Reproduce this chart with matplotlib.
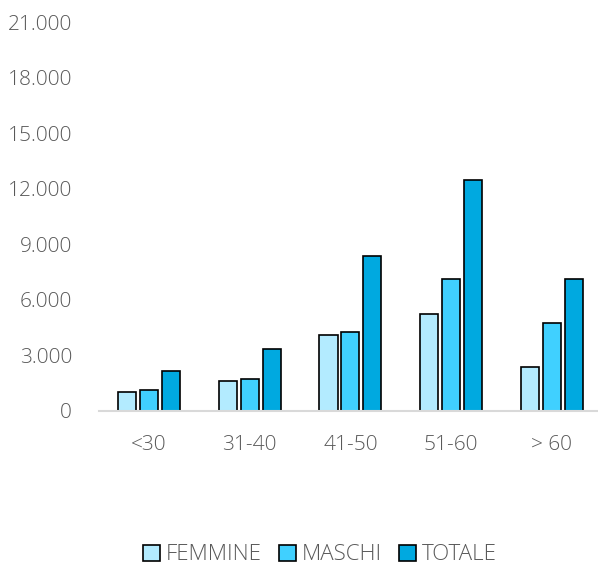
import matplotlib
matplotlib.use("Agg")
import matplotlib.pyplot as plt
import numpy as np

# dati per fascia di età
categorie = ["<30", "31-40", "41-50", "51-60", "> 60"]
femmine = [1000, 1600, 4100, 5250, 2350]
maschi = [1150, 1750, 4250, 7150, 4750]
totale = [2150, 3350, 8350, 12450, 7150]
serie = ["FEMMINE", "MASCHI", "TOTALE"]
colori = ["#b3ebff", "#40d0ff", "#00a9e0"]
yticks = [0, 3000, 6000, 9000, 12000, 15000, 18000, 21000]

plt.rcParams['font.family'] = ['Open Sans', 'DejaVu Sans']

fig = plt.figure(figsize=(5.98, 5.65), dpi=100)
ax = fig.add_axes([98.6/598, 154/565, 503.6/598, 389/565])

x = np.arange(len(categorie))
w = 0.18
step = 0.218
for i, (vals, lab, c) in enumerate(zip([femmine, maschi, totale], serie, colori)):
    ax.bar(x + (i - 1) * step, vals, width=w, color=c, edgecolor="black",
           linewidth=1.2, label=lab, zorder=3)

ax.set_xlim(-0.5, 4.5)
ax.set_ylim(0, 21000)
ax.set_yticks(yticks)
ax.set_yticklabels([f"{v:,}".replace(",", ".") for v in yticks])
ax.set_xticks(x)
ax.set_xticklabels(categorie)
ax.tick_params(axis="both", length=0, labelsize=15, colors="#595959")
ax.tick_params(axis="y", pad=19)
ax.tick_params(axis="x", pad=17)
for lbl in ax.get_xticklabels() + ax.get_yticklabels():
    lbl.set_fontweight("light")

for s in ["top", "right", "left"]:
    ax.spines[s].set_visible(False)
ax.spines["bottom"].set_color("#d9d9d9")
ax.spines["bottom"].set_linewidth(1.5)
ax.spines["bottom"].set_zorder(4)

leg = fig.legend(loc="center", bbox_to_anchor=(0.535, 10/565), ncol=3,
                 frameon=False, fontsize=16, handlelength=0.75, handleheight=0.75,
                 handletextpad=0.25, columnspacing=0.8)
for t in leg.get_texts():
    t.set_color("#595959")
    t.set_fontweight("light")

fig.savefig("out.png", dpi=100)
